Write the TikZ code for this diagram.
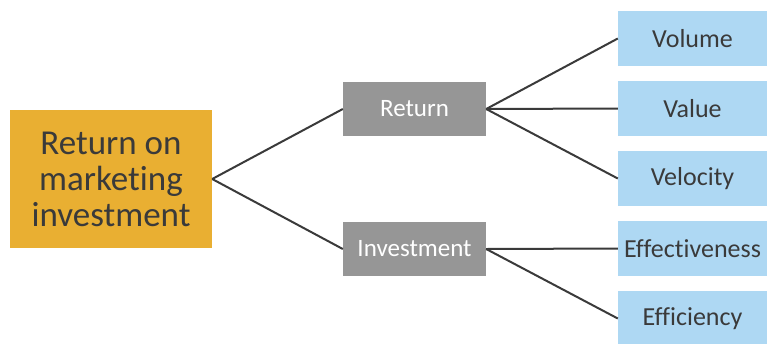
\documentclass[tikz,border=0pt]{standalone}
\usepackage{fontspec}
\setmainfont[Ligatures=NoCommon]{Carlito}
\usetikzlibrary{positioning}
\definecolor{roiorange}{HTML}{E9AF32}
\definecolor{roigray}{HTML}{969696}
\definecolor{roiblue}{HTML}{AED8F3}
\definecolor{roitext}{HTML}{3A3A3A}
\tikzset{
    rootbox/.style={fill=roiorange,text=roitext,minimum width=202pt,minimum height=138pt,inner sep=0pt,align=center,font=\fontsize{35}{36}\selectfont},
    midbox/.style={fill=roigray,text=white,minimum width=143pt,minimum height=54pt,inner sep=0pt,font=\fontsize{25}{28}\selectfont},
    leafbox/.style={fill=roiblue,text=roitext,minimum width=149pt,minimum height=55pt,inner sep=0pt,font=\fontsize{26}{28}\selectfont},
    link/.style={draw=roitext,line width=2pt}
}
\begin{document}
\begin{tikzpicture}[x=1pt,y=-1pt]
    \useasboundingbox (0,0) rectangle (767,343);
    % root and branches
    \node[rootbox] (roi) at (111,179) {Return on\\marketing\\investment};
    \node[midbox] (ret) at (414.5,109) {Return};
    \node[midbox] (inv) at (414.5,249) {Investment};
    % leaves
    \node[leafbox] (vol) at (692.5,38.5) {Volume};
    \node[leafbox] (val) at (692.5,108.5) {Value};
    \node[leafbox] (vel) at (692.5,178.5) {Velocity};
    \node[leafbox] (eft) at (692.5,248.5) {Effectiveness};
    \node[leafbox] (efc) at (692.5,318.5) {Efficiency};
    % connectors
    \draw[link] (roi.east) -- (ret.west);
    \draw[link] (roi.east) -- (inv.west);
    \draw[link] (ret.east) -- (vol.west);
    \draw[link] (ret.east) -- (val.west);
    \draw[link] (ret.east) -- (vel.west);
    \draw[link] (inv.east) -- (eft.west);
    \draw[link] (inv.east) -- (efc.west);
\end{tikzpicture}
\end{document}
